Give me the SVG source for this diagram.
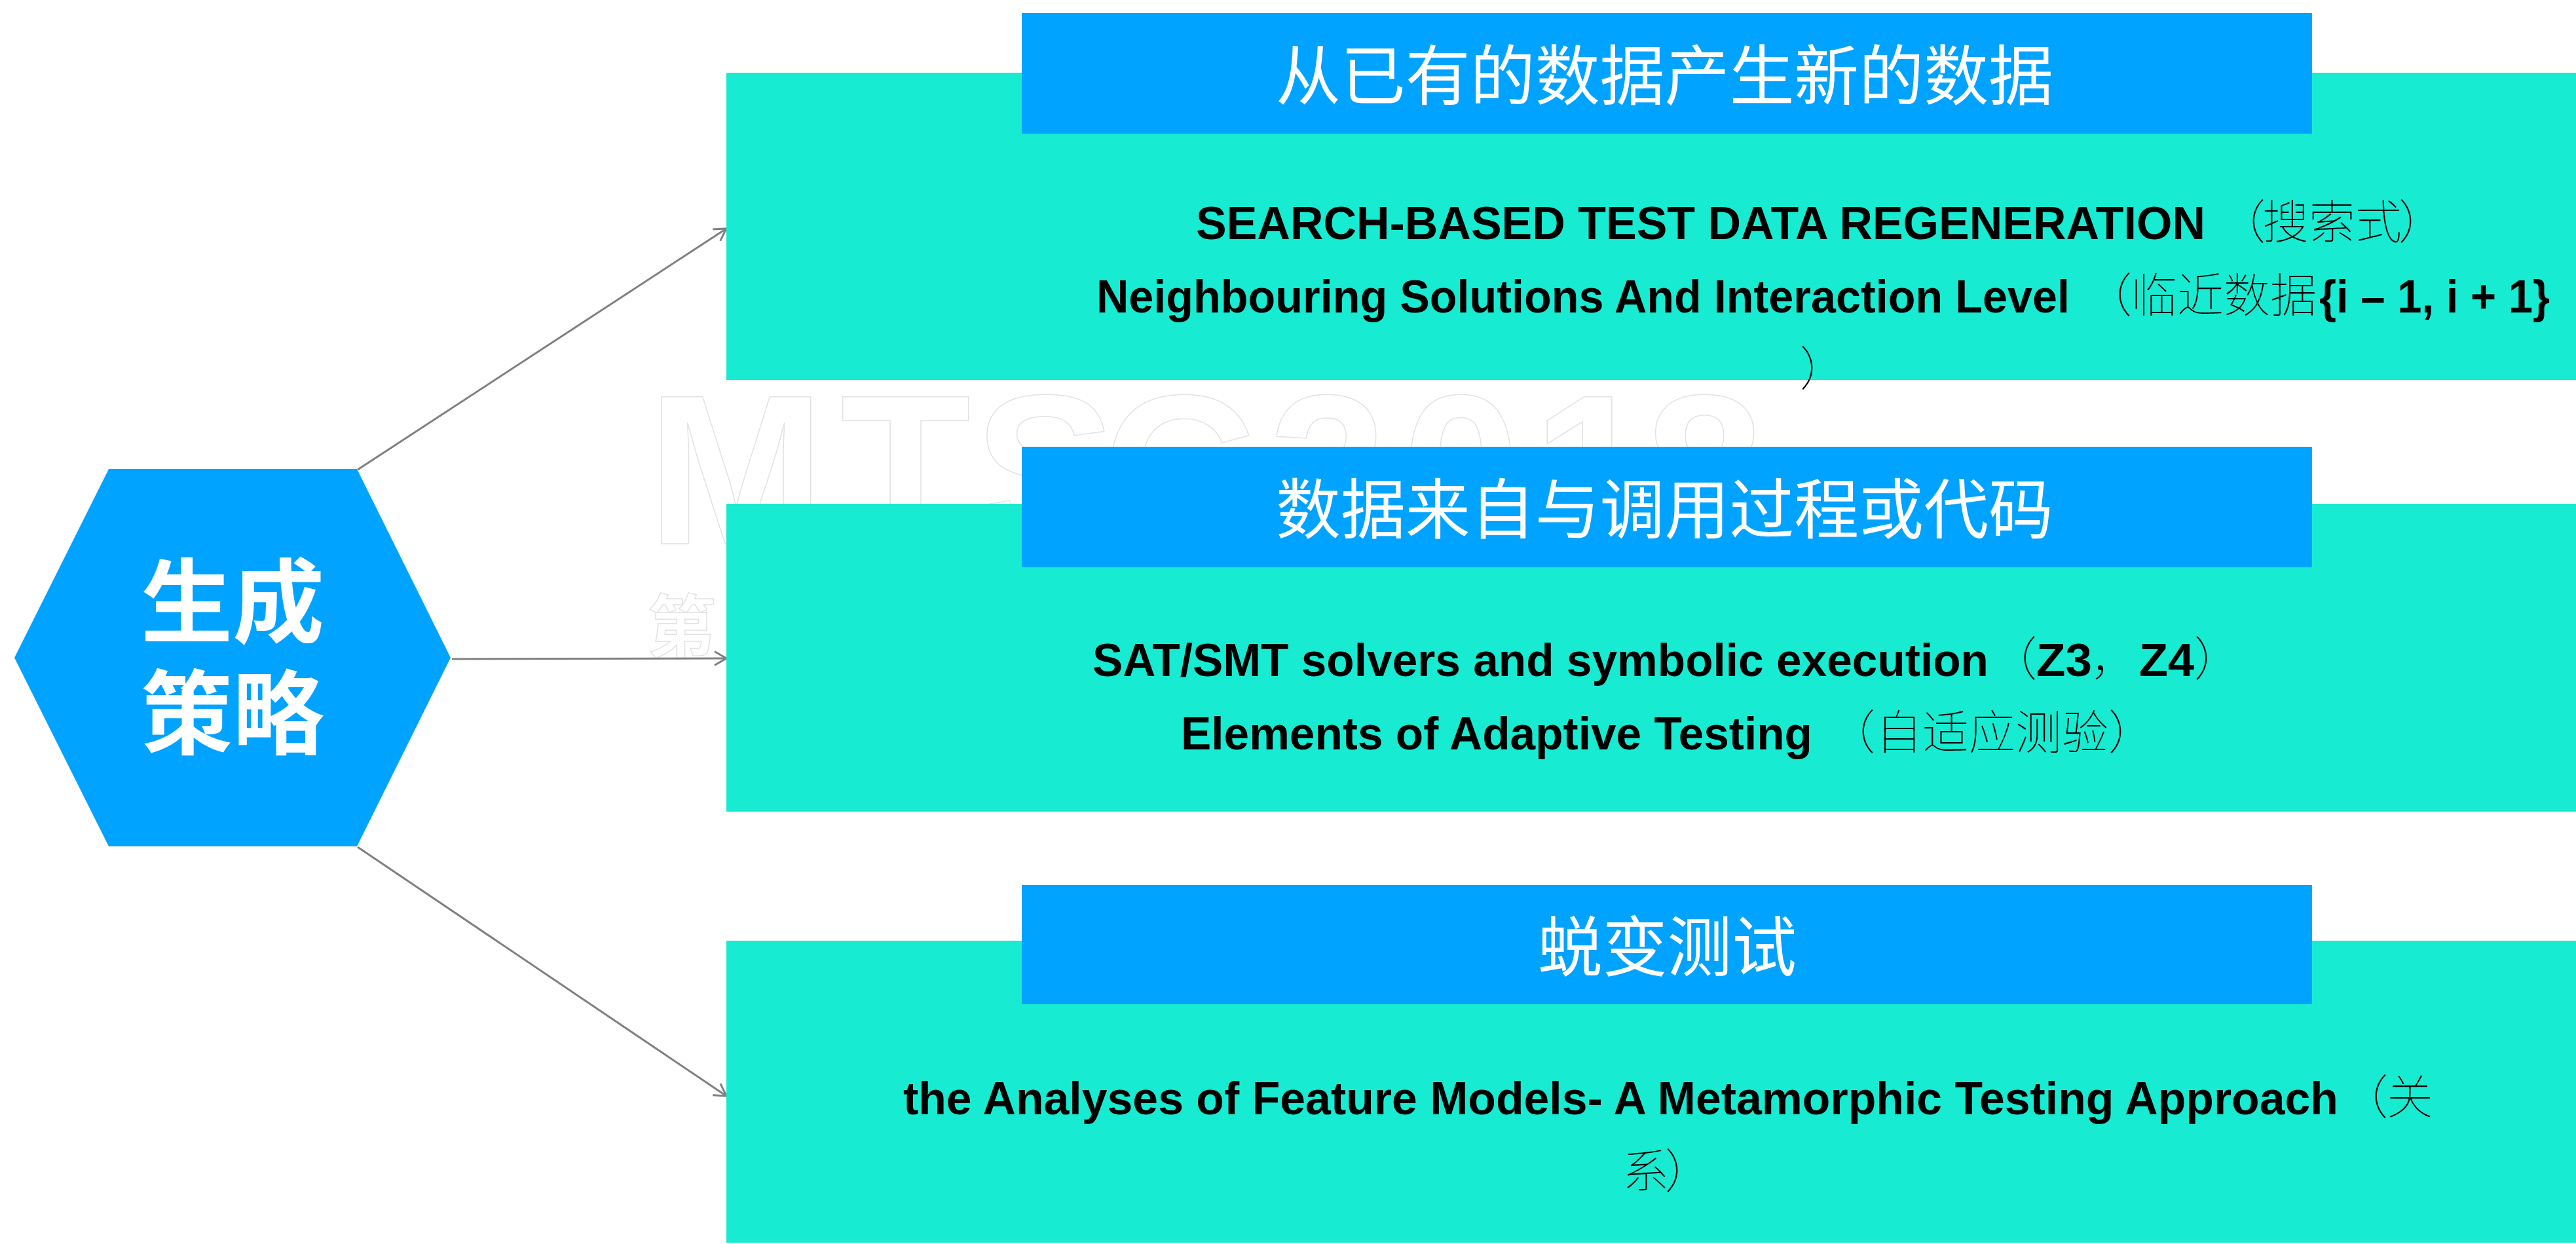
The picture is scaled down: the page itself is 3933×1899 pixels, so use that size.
<svg xmlns="http://www.w3.org/2000/svg" width="3933" height="1899" viewBox="0 0 3933 1899">
<style>
.t{fill:#17EBD1}.b{fill:#00A3FF}
.h{font-family:"Noto Sans CJK SC",sans-serif;font-size:100px;fill:#fff;font-weight:400}
.e{font-family:"Liberation Sans","Noto Sans CJK SC",sans-serif;font-size:70px;font-weight:700;fill:#000}
.c{font-family:"Noto Sans CJK SC",sans-serif;font-size:71px;font-weight:100;fill:#000}
.w{font-family:"Liberation Sans","Noto Sans CJK SC",sans-serif;font-weight:700;fill:#fff;stroke:#e2e2e2;stroke-width:1.5}
.l{stroke:#808080;stroke-width:3;fill:none}
.k{font-family:"Noto Sans CJK SC",sans-serif;font-size:140px;font-weight:700;fill:#fff;text-anchor:middle}
</style>
<defs><marker id="a" viewBox="0 0 20 24" refX="19" refY="12" markerWidth="20" markerHeight="24" markerUnits="userSpaceOnUse" orient="auto"><path d="M1 1.5L19 12L1 22.5" fill="none" stroke="#808080" stroke-width="3"/></marker></defs>
<rect width="3933" height="1899" fill="#fff"/>
<g id="watermark"><text class="w" x="988 1283 1487 1683 1936 2140 2340 2512" y="830" font-size="326">MTSC2018</text><text class="w" x="988" y="995" font-size="105">第</text></g>
<g id="connectors">
<path class="l" marker-end="url(#a)" d="M546 717L1109 349"/>
<path class="l" marker-end="url(#a)" d="M690 1006L1109 1005"/>
<path class="l" marker-end="url(#a)" d="M546 1293L1109 1673"/>
</g>
<g id="hex"><polygon class="b" points="22,1004 166,716 545,716 688,1004 545,1292 166,1292"/>
<text class="k"><tspan x="355" y="970">生成</tspan><tspan x="355" y="1140">策略</tspan></text></g>
<g id="box1"><rect class="t" x="1109" y="111" width="2824" height="469"/><rect class="b" x="1560" y="20" width="1970" height="184"/>
<text class="h" x="1948" y="152" textLength="1187" lengthAdjust="spacingAndGlyphs">从已有的数据产生新的数据</text>
<text class="e" x="1826" y="365" textLength="1541" lengthAdjust="spacingAndGlyphs">SEARCH-BASED TEST DATA REGENERATION</text><text class="c" x="3388 3454 3525 3596 3662" y="364">（搜索式）</text>
<text class="e" x="1674" y="477" textLength="1486" lengthAdjust="spacingAndGlyphs">Neighbouring Solutions And Interaction Level</text><text class="c" x="3184 3253 3324 3395 3466" y="476">（临近数据</text><text class="e" x="3541" y="477" textLength="352" lengthAdjust="spacingAndGlyphs">{i – 1, i + 1}</text>
<text class="c" x="2748" y="588">）</text></g>
<g id="box2"><rect class="t" x="1109" y="769" width="2824" height="470"/><rect class="b" x="1560" y="682" width="1970" height="184"/>
<text class="h" x="1948" y="814" textLength="1187" lengthAdjust="spacingAndGlyphs">数据来自与调用过程或代码</text>
<text class="e" x="1668" y="1032" textLength="1368" lengthAdjust="spacingAndGlyphs">SAT/SMT solvers and symbolic execution</text><text class="c" x="3039" y="1031">（</text><text class="e" x="3109" y="1032" textLength="85" lengthAdjust="spacingAndGlyphs">Z3</text><text class="c" x="3192" y="1031">，</text><text class="e" x="3266" y="1032" textLength="84" lengthAdjust="spacingAndGlyphs">Z4</text><text class="c" x="3350" y="1031">）</text>
<text class="e" x="1803" y="1144" textLength="964" lengthAdjust="spacingAndGlyphs">Elements of Adaptive Testing</text><text class="c" x="2792 2864 2935 3006 3077 3148 3219" y="1143">（自适应测验）</text></g>
<g id="box3"><rect class="t" x="1109" y="1436" width="2824" height="461"/><rect class="b" x="1560" y="1351" width="1970" height="182"/>
<text class="h" x="2348" y="1482" textLength="395" lengthAdjust="spacingAndGlyphs">蜕变测试</text>
<text class="e" x="1379" y="1701" textLength="2191" lengthAdjust="spacingAndGlyphs">the Analyses of Feature Models- A Metamorphic Testing Approach</text><text class="c" x="3575 3644" y="1700">（关</text>
<text class="c" x="2477 2542" y="1813">系）</text></g>
</svg>
